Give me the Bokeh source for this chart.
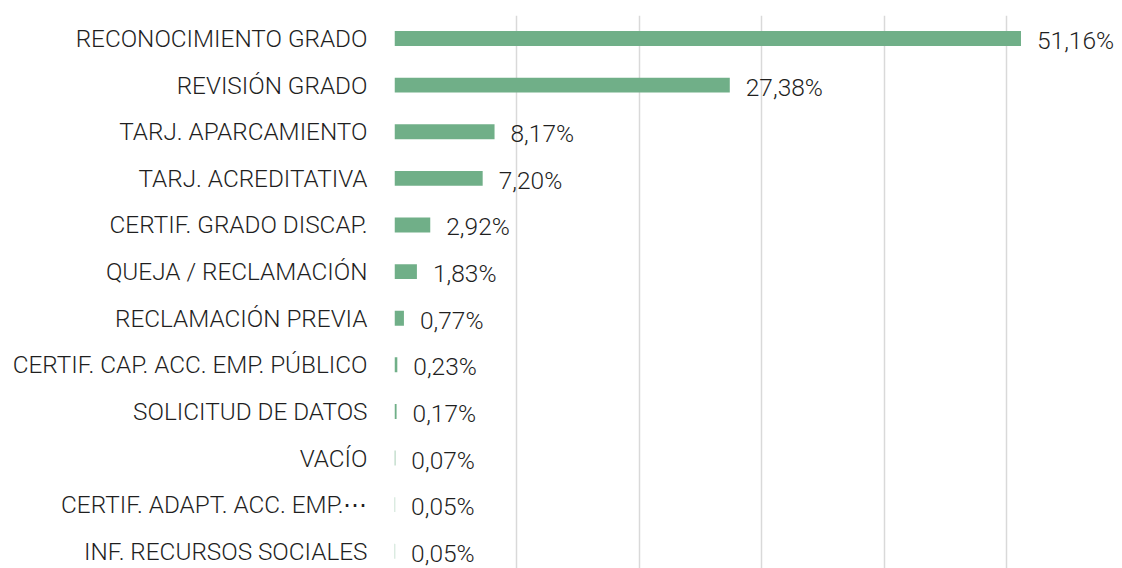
from bokeh.plotting import figure
from bokeh.models import ColumnDataSource, Range1d, FixedTicker, LabelSet
from bokeh.core.properties import value
from bokeh.embed import file_html
from bokeh.resources import INLINE

categories = [
    "RECONOCIMIENTO GRADO",
    "REVISIÓN GRADO",
    "TARJ. APARCAMIENTO",
    "TARJ. ACREDITATIVA",
    "CERTIF. GRADO DISCAP.",
    "QUEJA / RECLAMACIÓN",
    "RECLAMACIÓN PREVIA",
    "CERTIF. CAP. ACC. EMP. PÚBLICO",
    "SOLICITUD DE DATOS",
    "VACÍO",
    "CERTIF. ADAPT. ACC. EMP.⋯",
    "INF. RECURSOS SOCIALES",
]
values = [51.16, 27.38, 8.17, 7.20, 2.92, 1.83, 0.77, 0.23, 0.17, 0.07, 0.05, 0.05]
grid_ticks = [0, 10, 20, 30, 40, 50]

FONT = "Roboto Light"
TEXT_COLOR = "#1f1f1f"
BAR_COLOR = "#70AF88"

pos = list(range(len(categories)))
labels = [f"{v:.2f}".replace(".", ",") + "%" for v in values]
src = ColumnDataSource(dict(y=pos, v=values, lab=labels, cat=categories))

p = figure(
    width=1122, height=568,
    x_range=Range1d(0, 59.45),
    y_range=Range1d(11.37, -0.494),
    output_backend="svg", toolbar_location=None,
    min_border_left=394, min_border_right=0, min_border_top=15, min_border_bottom=0,
)
p.outline_line_color = None
p.background_fill_color = "white"
p.border_fill_color = "white"

p.hbar(y="y", right="v", left=0, height=0.32, source=src,
       fill_color=BAR_COLOR, line_color=None)

lbl = LabelSet(x="v", y="y", text="lab", source=src, x_offset=16, y_offset=-2,
               text_baseline="middle", text_align="left",
               text_font=value(FONT), text_font_size="24.5px", text_color=TEXT_COLOR)
p.add_layout(lbl)

p.xaxis.visible = False
p.xgrid.ticker = FixedTicker(ticks=grid_ticks)
p.xgrid.grid_line_color = "#D9D9D9"
p.xgrid.grid_line_width = 1.5
p.ygrid.grid_line_color = None

ya = p.yaxis[0]
ya.ticker = FixedTicker(ticks=pos)
ya.major_label_overrides = {i: c for i, c in zip(pos, categories)}
ya.axis_line_color = None
ya.major_tick_line_color = None
ya.minor_tick_line_color = None
ya.major_tick_out = 0
ya.major_tick_in = 0
ya.major_label_standoff = 27
ya.major_label_text_font = FONT
ya.major_label_text_font_size = "24.3px"
ya.major_label_text_color = TEXT_COLOR

open("out.html", "w").write(file_html(p, INLINE))
